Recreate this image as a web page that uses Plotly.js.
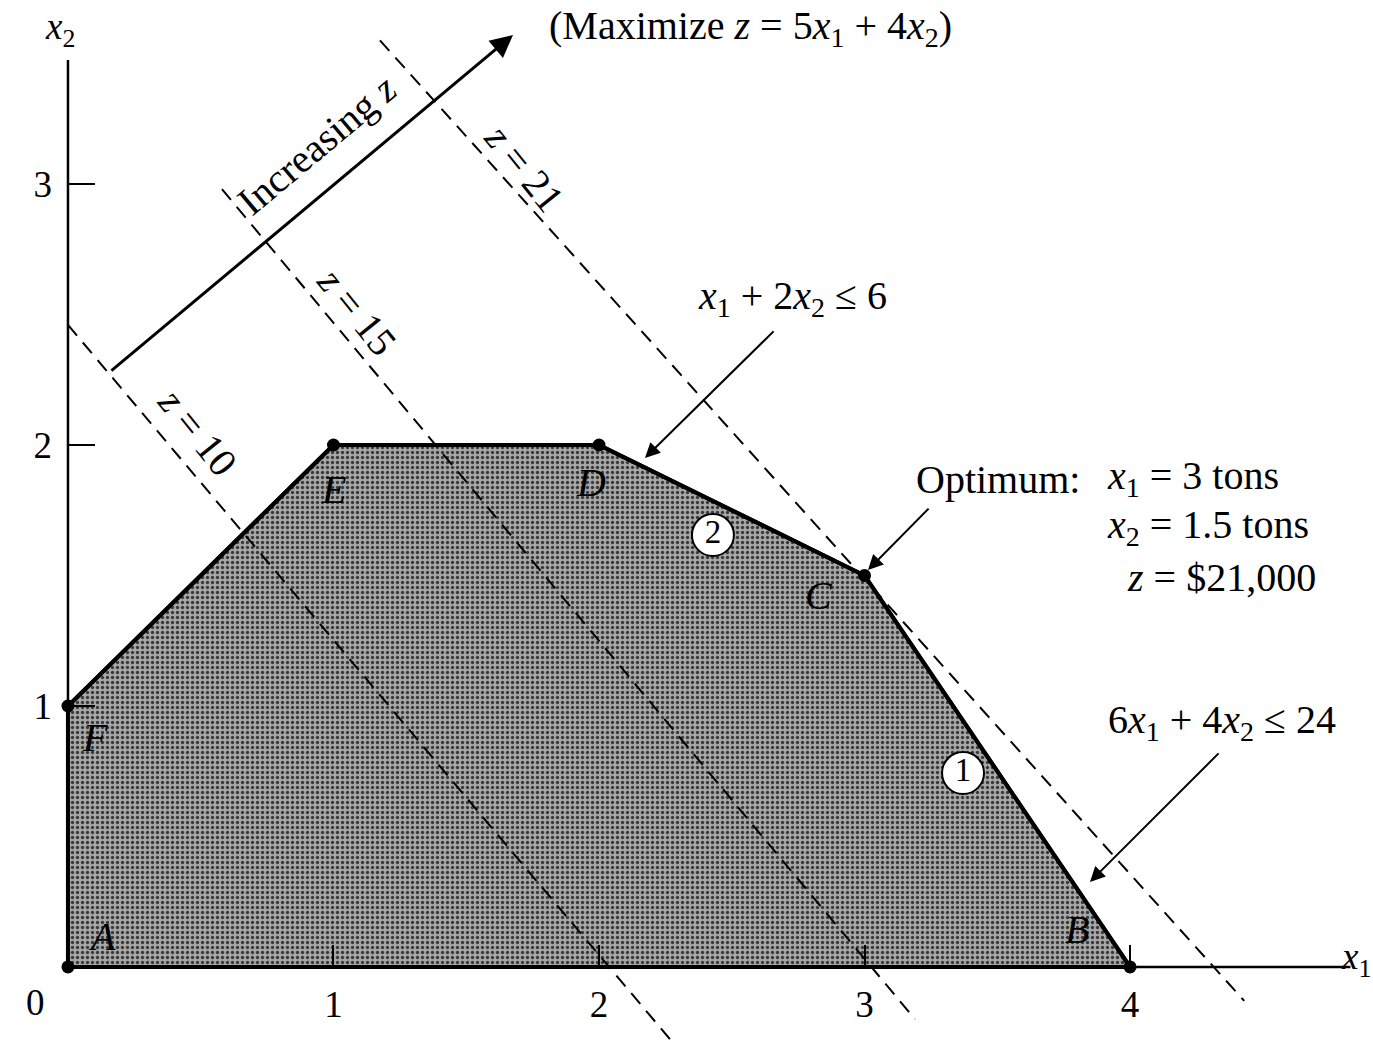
<!DOCTYPE html>
<html>
<head>
<meta charset="utf-8">
<script src="https://cdn.plot.ly/plotly-3.0.1.min.js"></script>
<style>html,body{margin:0;padding:0;background:#fff;}#chart{width:1373px;height:1045px;}</style>
</head>
<body>
<div id="chart"></div>
<script>
// ---- data ----
const vertexLabels = ['A', 'B', 'C', 'D', 'E', 'F'];
const vertexX = [0, 4, 3, 2, 1, 0];
const vertexY = [0, 0, 1.5, 2, 2, 1];
const labelX = [0.13, 3.80, 2.83, 1.97, 1.00, 0.10];
const labelY = [0.115, 0.142, 1.425, 1.858, 1.828, 0.881];

const zValues = [10, 15, 21];
const isoStartX = [0, 0.58, 1.175];
const isoStartY = [2.46, 2.98, 3.55];
const isoEndX = [2.27, 3.19, 4.43];
const isoEndY = [-0.28, -0.20, -0.13];
const isoLabelX = [0.486, 1.088, 1.721];
const isoLabelY = [2.05, 2.51, 3.061];

const constraintIds = ['1', '2'];
const constraintMarkX = [3.371, 2.429];
const constraintMarkY = [0.743, 1.655];

const xTicks = [1, 2, 3, 4];
const yTicks = [1, 2, 3];
const axisEndX = 4.83;
const axisEndY = 3.475;

// ---- layout helpers ----
const xMin = -0.256, xMax = 4.915, yMin = -0.299, yMax = 3.705;
const FONT = 'Liberation Serif, Times New Roman, serif';
const FS = 40;
const TICKFS = 37;

const traces = [];

// feasible region
traces.push({
  x: vertexX.concat([vertexX[0]]),
  y: vertexY.concat([vertexY[0]]),
  mode: 'lines',
  fill: 'toself',
  fillcolor: '#9a9a9a',
  fillpattern: {shape: '.', bgcolor: '#a8a8a8', fgcolor: '#3a3a3a', size: 5, solidity: 0.35},
  line: {color: '#000', width: 4},
  hoverinfo: 'skip'
});

// iso-profit lines
zValues.forEach((z, i) => {
  traces.push({
    x: [isoStartX[i], isoEndX[i]],
    y: [isoStartY[i], isoEndY[i]],
    mode: 'lines',
    line: {color: '#000', width: 2, dash: '14px,9px'},
    hoverinfo: 'skip'
  });
});

// axis lines
traces.push({x: [0, axisEndX], y: [0, 0], mode: 'lines', line: {color: '#000', width: 2.5}, hoverinfo: 'skip'});
traces.push({x: [0, 0], y: [0, axisEndY], mode: 'lines', line: {color: '#000', width: 2.5}, hoverinfo: 'skip'});
// thicker boundary of the region
traces.push({
  x: vertexX.concat([vertexX[0]]),
  y: vertexY.concat([vertexY[0]]),
  mode: 'lines', line: {color: '#000', width: 4}, hoverinfo: 'skip'
});

// vertices
traces.push({
  x: vertexX, y: vertexY, mode: 'markers',
  marker: {color: '#000', size: 13},
  cliponaxis: false, hoverinfo: 'skip'
});

// constraint circles
traces.push({
  x: constraintMarkX, y: constraintMarkY, mode: 'markers+text',
  text: constraintIds, textposition: 'middle center',
  textfont: {family: FONT, size: 33, color: '#000'},
  marker: {symbol: 'circle', size: 42, color: '#fff', line: {color: '#000', width: 2}},
  cliponaxis: false, hoverinfo: 'skip'
});

const ann = [];
function txt(text, x, y, opts) {
  ann.push(Object.assign({
    text: text, x: x, y: y, xref: 'x', yref: 'y', showarrow: false,
    font: {family: FONT, size: FS, color: '#000'}
  }, opts || {}));
}
function arrow(x, y, ax, ay, w) {
  ann.push({
    text: '', x: x, y: y, ax: ax, ay: ay, xref: 'x', yref: 'y', axref: 'x', ayref: 'y',
    showarrow: true, arrowhead: 2, arrowsize: 1.5, arrowwidth: w || 2, arrowcolor: '#000'
  });
}

// vertex letters
vertexLabels.forEach((l, i) => txt('<i>' + l + '</i>', labelX[i], labelY[i]));

// iso line labels
zValues.forEach((z, i) => txt('<i>z</i> = ' + z, isoLabelX[i], isoLabelY[i], {textangle: 51}));

// increasing z
arrow(1.676, 3.571, 0.158, 2.28, 3);
txt('Increasing <i>z</i>', 0.94, 3.15, {textangle: -40});

// titles / axis names
txt('(Maximize <i>z</i> = 5<i>x</i><sub>1</sub> + 4<i>x</i><sub>2</sub>)', 2.569, 3.598);
txt('<i>x</i><sub>2</sub>', -0.03, 3.592, {font: {family: FONT, size: 37, color: '#000'}});
txt('<i>x</i><sub>1</sub>', 4.85, 0.027, {font: {family: FONT, size: 37, color: '#000'}});
txt('0', -0.124, -0.138, {font: {family: FONT, size: TICKFS, color: '#000'}});

// constraint 2
txt('<i>x</i><sub>1</sub> + 2<i>x</i><sub>2</sub> ≤ 6', 2.727, 2.563);
arrow(2.173, 1.95, 2.663, 2.441, 2);

// optimum
txt('Optimum:', 3.503, 1.866);
txt('<i>x</i><sub>1</sub> = 3 tons', 3.906, 1.874, {xanchor: 'left'});
txt('<i>x</i><sub>2</sub> = 1.5 tons', 3.906, 1.686, {xanchor: 'left'});
txt('<i>z</i> = $21,000', 3.981, 1.494, {xanchor: 'left'});
arrow(3.013, 1.521, 3.247, 1.762, 2);

// constraint 1
txt('6<i>x</i><sub>1</sub> + 4<i>x</i><sub>2</sub> ≤ 24', 4.346, 0.939);
arrow(3.849, 0.326, 4.339, 0.824, 2);

const layout = {
  width: 1373, height: 1045,
  margin: {l: 0, r: 0, t: 0, b: 0},
  paper_bgcolor: '#fff', plot_bgcolor: '#fff',
  showlegend: false,
  xaxis: {
    range: [xMin, xMax], anchor: 'free', position: (0 - yMin) / (yMax - yMin),
    showgrid: false, zeroline: false, showline: false,
    tickmode: 'array', tickvals: xTicks, ticktext: xTicks.map(String),
    ticks: 'inside', ticklen: 22, tickwidth: 2, tickcolor: '#000',
    ticklabelstandoff: 12,
    tickfont: {family: FONT, size: TICKFS, color: '#000'}, fixedrange: true
  },
  yaxis: {
    range: [yMin, yMax], anchor: 'free', position: (0 - xMin) / (xMax - xMin),
    showgrid: false, zeroline: false, showline: false,
    tickmode: 'array', tickvals: yTicks, ticktext: yTicks.map(String),
    ticks: 'inside', ticklen: 26, tickwidth: 2, tickcolor: '#000',
    ticklabelstandoff: 16,
    tickfont: {family: FONT, size: TICKFS, color: '#000'}, fixedrange: true
  },
  annotations: ann
};

Plotly.newPlot('chart', traces, layout, {staticPlot: true, displayModeBar: false});
</script>
</body>
</html>
